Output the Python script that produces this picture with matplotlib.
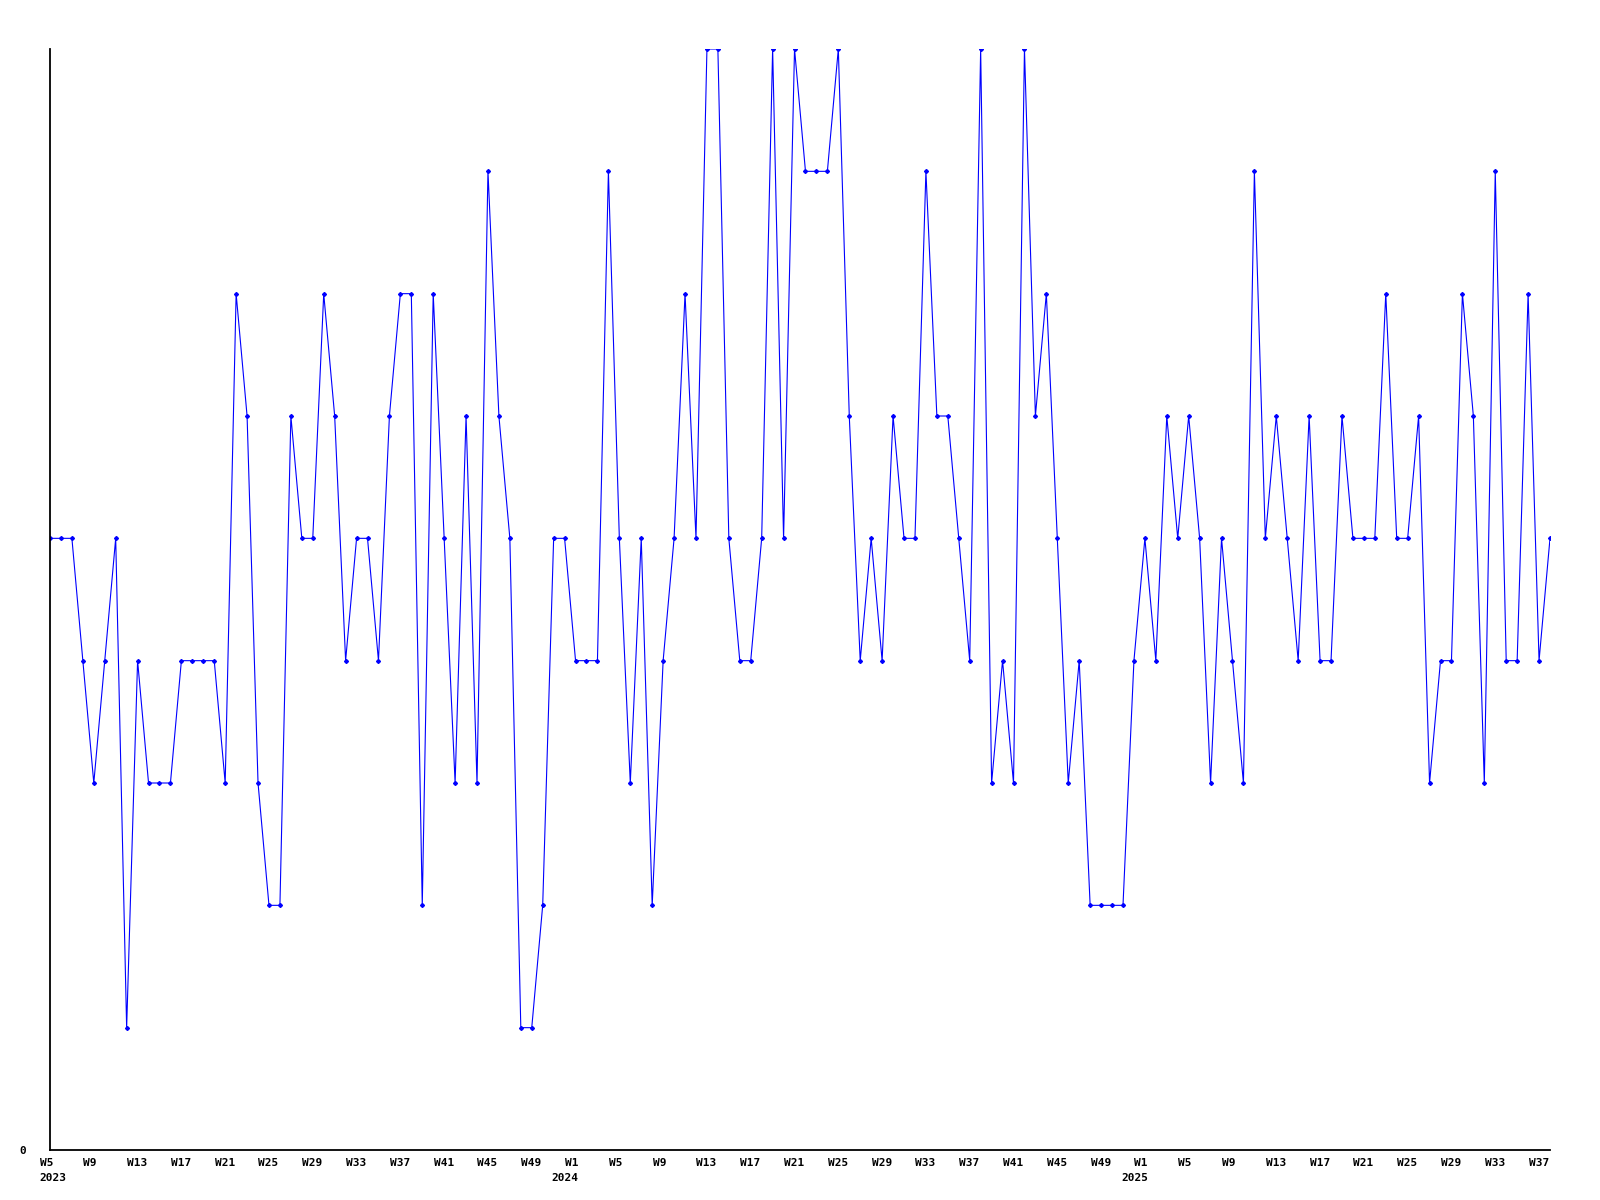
import matplotlib
matplotlib.use('Agg')
import matplotlib.pyplot as plt
import matplotlib.transforms as mtransforms

# weekly counts, 2023 W5 .. 2025 W38
values_2023 = [5, 5, 5, 4, 3, 4, 5, 1, 4, 3, 3, 3, 4, 4, 4, 4, 3, 7, 6, 3,
               2, 2, 6, 5, 5, 7, 6, 4, 5, 5, 4, 6, 7, 7, 2, 7, 5, 3, 6, 3,
               8, 6, 5, 1, 1, 2, 5, 5]
values_2024 = [4, 4, 4, 8, 5, 3, 5, 2, 4, 5, 7, 5, 9, 9, 5, 4, 4, 5, 9, 5,
               9, 8, 8, 8, 9, 6, 4, 5, 4, 6, 5, 5, 8, 6, 6, 5, 4, 9, 3, 4,
               3, 9, 6, 7, 5, 3, 4, 2, 2, 2, 2, 4]
values_2025 = [5, 4, 6, 5, 6, 5, 3, 5, 4, 3, 8, 5, 6, 5, 4, 6, 4, 4, 6, 5,
               5, 5, 7, 5, 5, 6, 3, 4, 4, 7, 6, 3, 8, 4, 4, 7, 4, 5]

weeks = ([(2023, w) for w in range(5, 53)] +
         [(2024, w) for w in range(1, 53)] +
         [(2025, w) for w in range(1, 39)])
values = values_2023 + values_2024 + values_2025

fig = plt.figure(figsize=(16, 12), dpi=100)
ax = fig.add_axes([50 / 1600, 50 / 1200, 1500 / 1600, 1101 / 1200])

x = list(range(len(values)))
ax.plot(x, values, color='#0000ff', linewidth=0.8, marker='D', markersize=2)

ax.set_xlim(0, len(values) - 1)
ax.set_ylim(0, max(values))

for s in ['top', 'right']:
    ax.spines[s].set_visible(False)
for s in ['left', 'bottom']:
    ax.spines[s].set_linewidth(1.3)

font = dict(family='DejaVu Sans Mono', weight='bold', size=8)

ax.set_yticks([0])
ax.set_yticklabels(['0'], **font)
ax.tick_params(axis='y', length=0, pad=17)

tick_pos = [i for i, (y, w) in enumerate(weeks) if w % 4 == 1]
ax.set_xticks(tick_pos)
ax.set_xticklabels(['W%d' % weeks[i][1] for i in tick_pos], ha='left', **font)
ax.tick_params(axis='x', length=0, pad=6)
shift = mtransforms.ScaledTranslation(-0.105, 0, fig.dpi_scale_trans)
for lab in ax.get_xticklabels():
    lab.set_transform(lab.get_transform() + shift)

# year under the first tick of each year
trans = mtransforms.blended_transform_factory(ax.transData, ax.transAxes)
seen = set()
for i in tick_pos:
    yr = weeks[i][0]
    if yr in seen:
        continue
    seen.add(yr)
    ha = 'left' if i == 0 else 'center'
    ax.annotate(str(yr), xy=(i, 0), xycoords=trans, xytext=(-10.5, -23),
                textcoords='offset pixels', ha=ha, va='top', **font)

fig.savefig('out.png', dpi=100, facecolor='white')
